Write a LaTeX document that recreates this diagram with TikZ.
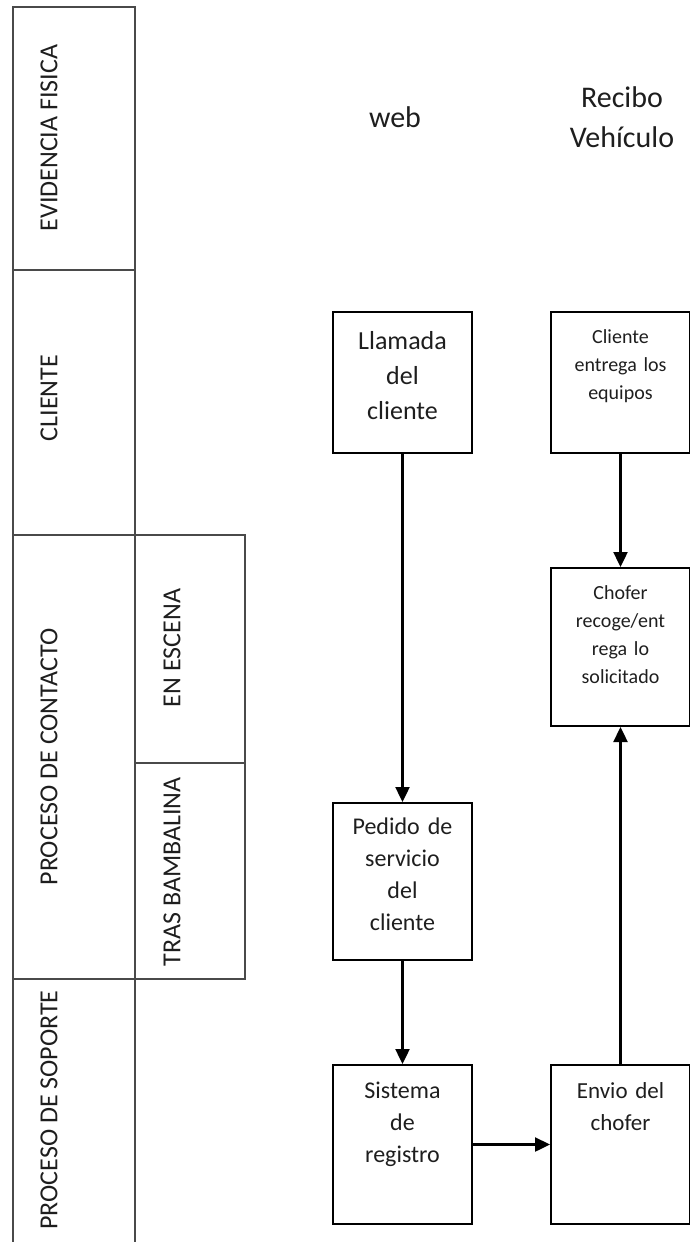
\documentclass[tikz,border=0pt]{standalone}
\usepackage{fontspec}
\setmainfont{Carlito}
\usetikzlibrary{arrows.meta, positioning}
\definecolor{laneline}{HTML}{4A4A4A}
\definecolor{inktext}{HTML}{1E1E1E}

\begin{document}
\begin{tikzpicture}[
    x=1pt, y=-1pt,
    lane/.style={draw=laneline, line width=2.2pt},
    lanelabel/.style={rotate=90, font=\fontsize{26}{30}\selectfont, text=inktext, inner sep=0pt},
    header/.style={align=center, font=\fontsize{30}{40}\selectfont, text=inktext},
    box/.style={draw, line width=2pt, text width=127pt, inner xsep=6pt, inner ysep=0pt, align=center, text=inktext},
    arrow/.style={-{Triangle[length=15pt, width=14pt]}, line width=2.4pt},
]
    \useasboundingbox (0,0) rectangle (690,1242);

    % swimlanes
    \draw[lane] (13,7) rectangle (135,270);
    \draw[lane] (13,270) rectangle (135,535);
    \draw[lane] (13,535) rectangle (135,979);
    \draw[lane] (135,535) rectangle (245,763);
    \draw[lane] (135,763) rectangle (245,979);
    \draw[lane] (13,979) -- (13,1242);
    \draw[lane] (135,979) -- (135,1242);

    \node[lanelabel] (evidencia) at (49,138) {EVIDENCIA FISICA};
    \node[lanelabel] (cliente) at (49,398) {CLIENTE};
    \node[lanelabel] (contacto) at (49,757) {PROCESO DE CONTACTO};
    \node[lanelabel] (escena) at (172,648) {EN ESCENA};
    \node[lanelabel] (bambalina) at (172,872) {TRAS BAMBALINA};
    \node[lanelabel] (soporte) at (49,1110) {PROCESO DE SOPORTE};

    \node[header] (web) at (395,117) {web};
    \node[header] (recibo) at (622,117) {Recibo\\Vehículo};

    % process boxes
    \node[box, anchor=north west, font=\fontsize{26}{35}\selectfont, text height=37pt, text depth=104pt] (llamada) at (332,311) {Llamada\\del\\cliente};
    \node[box, right=77pt of llamada, font=\fontsize{20}{28}\selectfont, text height=31pt, text depth=110pt] (entrega) {Cliente\\entrega los\\equipos};
    \node[box, below=113pt of entrega, font=\fontsize{20}{28}\selectfont, text height=31pt, text depth=127pt] (chofer) {Chofer\\recoge/ent\\rega lo\\solicitado};
    \node[box, below=348pt of llamada, font=\fontsize{24}{32}\selectfont, text height=31pt, text depth=126pt] (pedido) {Pedido de\\servicio\\del\\cliente};
    \node[box, below=103pt of pedido, font=\fontsize{24}{32}\selectfont, text height=33pt, text depth=126pt] (sistema) {Sistema\\de\\registro};
    \node[box, right=77pt of sistema, font=\fontsize{23}{32}\selectfont, text height=33pt, text depth=126pt] (envio) {Envio del\\chofer};

    \draw[arrow] (llamada) -- (pedido);
    \draw[arrow] (pedido) -- (sistema);
    \draw[arrow] (sistema) -- (envio);
    \draw[arrow] (envio) -- (chofer);
    \draw[arrow] (entrega) -- (chofer);
\end{tikzpicture}
\end{document}
